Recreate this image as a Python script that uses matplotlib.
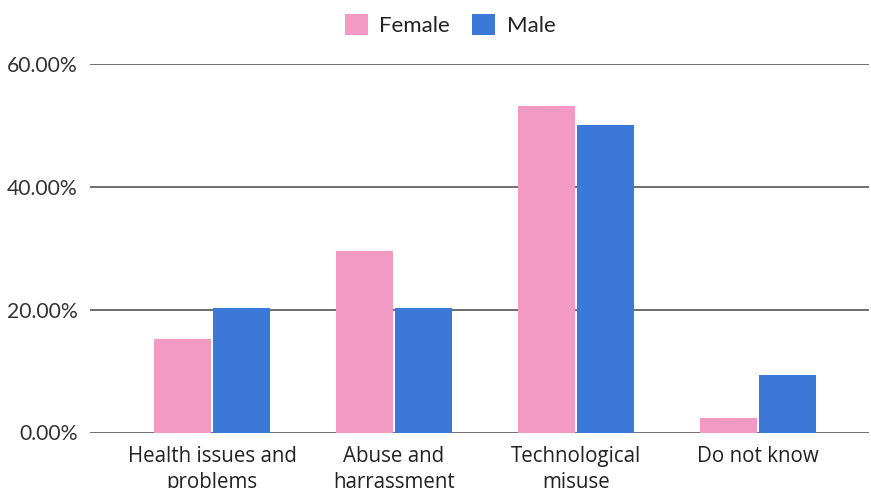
import matplotlib
matplotlib.use("Agg")
import matplotlib.pyplot as plt
import numpy as np

categories = ["Health issues and\nproblems", "Abuse and\nharrassment", "Technological\nmisuse", "Do not know"]
female = [15.2, 29.6, 53.1, 2.3]
male = [20.3, 20.3, 50.1, 9.4]
yticks = [0, 20, 40, 60]
ytick_labels = ["0.00%", "20.00%", "40.00%", "60.00%"]

pink = "#F39AC4"
blue = "#3C78D8"

fig = plt.figure(figsize=(8.71, 4.88), dpi=100)
ax = fig.add_axes([90/871, 1-432.5/488, (869-90)/871, (432.5-64)/488])

x = np.arange(len(categories))
w = 0.313
off = 0.162
ax.bar(x - off, female, width=w, color=pink, label="Female", zorder=3)
ax.bar(x + off, male, width=w, color=blue, label="Male", zorder=3)

ax.set_ylim(0, 60)
ax.set_xlim(-0.67, 3.61)
ax.set_yticks(yticks)
ax.set_yticklabels(ytick_labels, fontfamily="Lato", fontsize=15.2, color="#333333")
ax.set_xticks(x)
ax.set_xticklabels(categories, fontfamily="Open Sans", fontsize=14.8, color="#222222", linespacing=1.3)
ax.tick_params(axis="both", length=0)
ax.tick_params(axis="y", pad=9)
ax.tick_params(axis="x", pad=10)
ax.grid(axis="y", color="#555555", linewidth=1.2, zorder=0)
for s in ax.spines.values():
    s.set_visible(False)

leg = fig.legend(loc="upper center", bbox_to_anchor=(450/871, 1.0), ncol=2, frameon=False,
                 prop={"family": "Lato", "size": 16}, handlelength=1.05, handleheight=1.05,
                 handletextpad=0.5, columnspacing=1.0, borderaxespad=0.25)
for t in leg.get_texts():
    t.set_color("#222222")

fig.savefig("out.png", dpi=100)
